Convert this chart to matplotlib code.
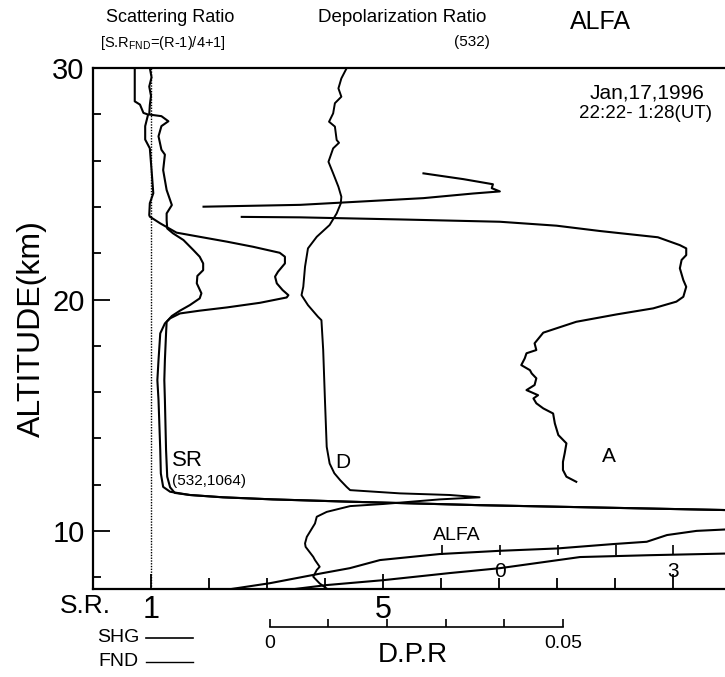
import numpy as np
import matplotlib
matplotlib.use("Agg")
import matplotlib.pyplot as plt
from matplotlib.lines import Line2D

plt.rcParams['font.family'] = ['Liberation Sans', 'DejaVu Sans']
plt.rcParams['mathtext.fontset'] = 'custom'
plt.rcParams['mathtext.rm'] = 'Liberation Sans'

# scattering ratio, SHG (532) -- altitude (km), ratio
sr_shg_alt = [30.0, 28.56, 28.42, 28.06, 27.99, 27.49, 26.91, 26.53, 25.59, 24.59, 24.16, 23.65,
              23.58, 23.29, 22.89, 22.71, 22.50, 22.28, 22.02, 21.85, 21.56, 21.20, 20.99, 20.70,
              20.41, 20.19, 20.09, 19.86, 19.66, 19.52, 19.40, 19.19, 18.97, 18.54, 17.39, 16.52,
              15.66, 13.50, 12.49, 11.91, 11.70, 11.56, 11.46, 11.37, 11.27, 11.12, 10.91, 10.85,
              10.10, 10.07, 10.01, 9.83, 9.54, 9.44, 9.25, 9.15, 9.01, 8.75, 8.40, 8.19, 7.75,
              7.49, 7.30]
sr_shg = [0.72, 0.72, 0.81, 0.87, 0.95, 0.90, 0.90, 0.98, 1.01, 1.04, 0.98, 0.97,
          0.98, 1.16, 1.44, 1.84, 2.31, 2.76, 3.22, 3.31, 3.31, 3.19, 3.14, 3.17,
          3.27, 3.37, 3.34, 2.88, 2.31, 1.84, 1.50, 1.33, 1.24, 1.16, 1.13, 1.11,
          1.13, 1.16, 1.17, 1.21, 1.33, 1.67, 2.24, 3.10, 4.43, 6.67, 10.90, 11.5,
          11.5, 10.90, 10.41, 9.90, 9.55, 8.97, 8.00, 7.02, 5.98, 4.95, 4.43, 3.97, 3.05,
          2.36, 1.90]

# scattering ratio, FND (1064)
sr_fnd_alt = [30.0, 29.6, 29.2, 28.8, 28.4, 27.99, 27.92, 27.70, 27.49, 27.05, 26.47, 26.26,
              25.59, 24.73, 24.08, 23.72, 23.43, 23.07, 22.86, 22.57, 22.14, 21.85, 21.56,
              21.27, 21.02, 20.70, 20.27, 20.05, 19.76, 19.52, 19.29, 19.04, 18.54, 17.39,
              16.52, 15.66, 13.50, 12.35, 11.89, 11.65, 11.56, 11.46, 11.37, 11.27, 11.12,
              10.91, 10.85, 9.05, 9.03, 8.96, 8.88, 8.40, 8.19, 7.88, 7.67, 7.49, 7.30]
sr_fnd = [0.98, 1.01, 0.97, 1.00, 0.98, 0.97, 1.18, 1.30, 1.18, 1.13, 1.18, 1.24,
          1.21, 1.27, 1.36, 1.27, 1.27, 1.28, 1.38, 1.56, 1.73, 1.84, 1.90,
          1.90, 1.80, 1.79, 1.87, 1.84, 1.67, 1.50, 1.36, 1.27, 1.26, 1.24,
          1.23, 1.24, 1.26, 1.28, 1.33, 1.41, 1.67, 2.24, 3.10, 4.43, 6.67,
          10.90, 11.5, 11.5, 10.90, 9.60, 8.40, 7.02, 6.16, 5.00, 4.03, 3.45, 2.90]

# depolarization ratio (532)
dpr_alt = [29.99, 29.55, 29.12, 28.76, 28.48, 28.04, 27.68, 27.47, 26.89, 26.77, 26.53, 25.95,
           25.45, 24.87, 24.44, 24.15, 23.72, 23.22, 22.71, 22.21, 21.42, 20.55, 20.19, 19.76,
           19.26, 19.11, 17.82, 15.66, 13.64, 12.92, 12.50, 12.20, 11.91, 11.77, 11.63, 11.56,
           11.46, 11.37, 11.17, 11.08, 10.83, 10.62, 10.33, 9.75, 9.47, 9.32, 8.89, 8.75, 8.46,
           8.32, 8.03, 7.74, 7.52]
dpr = [0.0131, 0.0122, 0.0117, 0.0122, 0.0111, 0.0108, 0.0101, 0.0111, 0.0114, 0.0118, 0.0108, 0.0100,
       0.0108, 0.0117, 0.0122, 0.0121, 0.0114, 0.0102, 0.0080, 0.0065, 0.0060, 0.0057, 0.0054, 0.0065,
       0.0082, 0.0088, 0.0091, 0.0094, 0.0097, 0.0102, 0.0110, 0.0120, 0.0131, 0.0137, 0.0222, 0.0307,
       0.0358, 0.0290, 0.0193, 0.0137, 0.0097, 0.0080, 0.0077, 0.0063, 0.0060, 0.0061, 0.0074, 0.0077,
       0.0085, 0.0080, 0.0074, 0.0085, 0.0097]

# alfa (A), upper piece and main piece
alfa_top_alt = [25.45, 25.20, 24.98, 24.81, 24.67, 24.58, 24.38, 24.09, 24.01]
alfa_top = [-1.32, -0.63, -0.12, -0.14, 0.00, -0.46, -1.32, -3.45, -5.12]
alfa_alt = [23.57, 23.55, 23.46, 23.36, 23.19, 22.96, 22.69, 22.35, 22.21, 21.92, 21.71, 21.35,
            20.84, 20.55, 20.12, 19.91, 19.62, 19.36, 19.04, 18.76, 18.57, 18.11, 17.82, 17.68,
            17.46, 17.17, 16.95, 16.81, 16.60, 16.31, 16.09, 15.87, 15.73, 15.52, 15.30, 15.08,
            14.65, 14.15, 13.79, 13.36, 12.99, 12.64, 12.35, 12.13]
alfa = [-4.46, -3.45, -1.73, 0.00, 0.98, 1.73, 2.73, 3.11, 3.22, 3.22, 3.14, 3.11,
        3.17, 3.22, 3.17, 3.05, 2.65, 2.02, 1.32, 0.98, 0.75, 0.60, 0.63, 0.46,
        0.43, 0.37, 0.52, 0.55, 0.63, 0.60, 0.46, 0.66, 0.58, 0.63, 0.75, 0.92,
        0.95, 1.01, 1.15, 1.12, 1.09, 1.09, 1.15, 1.32]

sr_ticks = [1, 2, 3, 4, 5, 6, 7, 8, 9, 10]
dpr_ticks = [0, 0.01, 0.02, 0.03, 0.04, 0.05]
alfa_ticks = [-1, 0, 1, 2, 3]

W, H = 725, 677
fig = plt.figure(figsize=(7.25, 6.77), dpi=100)


def fx(px):
    return px / W


def fy(py):
    return 1 - py / H


L, R, T, B = 93, 725, 68, 589
ax = fig.add_axes([fx(L), fy(B), (R - L) / W, (B - T) / H])
ax.set_xlim(0, 10.9)
ax.set_ylim(7.5, 30)
ax.spines['right'].set_visible(False)
for s in ['left', 'top', 'bottom']:
    ax.spines[s].set_linewidth(1.6)

ax.set_xticks([1, 5, 10])
ax.set_xticklabels(['1', '5', ''], fontsize=22)
ax.set_xticks([t for t in sr_ticks if t not in (1, 5, 10)], minor=True)
ax.tick_params(axis='x', which='both', direction='in', top=True, width=1.3, pad=4)
ax.tick_params(axis='x', which='major', length=11)
ax.tick_params(axis='x', which='minor', length=8)
ax.set_yticks([10, 20, 30])
ax.set_yticklabels(['10', '20', '30'], fontsize=21)
ax.set_yticks([8, 12, 14, 16, 18, 22, 24, 26, 28], minor=True)
ax.tick_params(axis='y', which='major', direction='in', length=12, width=1.3, pad=6)
ax.tick_params(axis='y', which='minor', direction='in', length=6, width=1.3)
ax.set_ylabel('ALTITUDE(km)', fontsize=23, labelpad=4)

ax.axvline(1, color='k', lw=1.0, ls=(0, (1, 1)))
ax.plot(sr_shg, sr_shg_alt, color='k', lw=1.5)
ax.plot(sr_fnd, sr_fnd_alt, color='k', lw=1.5)

# depolarization on its own x scale
axd = ax.twiny()
axd.set_xlim(-0.0302, 0.0777)
axd.axis('off')
axd.plot(dpr, dpr_alt, color='k', lw=1.4)

# alfa on its own x scale
axa = ax.twiny()
axa.set_xlim(-7.03, 3.89)
axa.axis('off')
axa.plot(alfa_top, alfa_top_alt, color='k', lw=1.5)
axa.plot(alfa, alfa_alt, color='k', lw=1.5)

# inner ALFA scale
axs = fig.add_axes([fx(L), fy(555), (R - L) / W, 0.0005])
axs.set_facecolor('none')
axs.set_xlim(-7.03, 3.89)
for s in axs.spines.values():
    s.set_visible(False)
axs.set_yticks([])
axs.set_xticks(alfa_ticks)
axs.set_xticklabels(['', '0', '', '', '3'], fontsize=15)
axs.tick_params(axis='x', direction='in', length=7, width=1.2, pad=5)

# D.P.R scale bar
axp = fig.add_axes([fx(L), fy(627), (R - L) / W, 0.0005])
axp.set_facecolor('none')
axp.set_xlim(-0.0302, 0.0777)
for s in ['top', 'left', 'right']:
    axp.spines[s].set_visible(False)
axp.spines['bottom'].set_bounds(0, 0.05)
axp.spines['bottom'].set_linewidth(1.2)
axp.set_yticks([])
axp.set_xticks(dpr_ticks)
axp.set_xticklabels(['0', '', '', '', '', '0.05'], fontsize=14)
axp.tick_params(axis='x', direction='in', length=6, width=1.2, pad=6)

# texts
fig.text(fx(170), fy(18), 'Scattering Ratio', fontsize=13, ha='center', va='center')
fig.text(fx(100), fy(43), r'[S.R$_{\mathrm{FND}}$=(R-1)/4+1]', fontsize=10.5, ha='left', va='center')
fig.text(fx(402), fy(18), 'Depolarization Ratio', fontsize=13.5, ha='center', va='center')
fig.text(fx(490), fy(42), '(532)', fontsize=11, ha='right', va='center')
fig.text(fx(600), fy(22), 'ALFA', fontsize=18, ha='center', va='center')
fig.text(fx(590), fy(93), 'Jan,17,1996', fontsize=15, ha='left', va='center')
fig.text(fx(712), fy(114), '22:22- 1:28(UT)', fontsize=13.5, ha='right', va='center')
fig.text(fx(172), fy(461), 'SR', fontsize=16, ha='left', va='center')
fig.text(fx(172), fy(481), '(532,1064)', fontsize=11, ha='left', va='center')
fig.text(fx(335), fy(462), 'D', fontsize=15, ha='left', va='center')
fig.text(fx(602), fy(457), 'A', fontsize=15, ha='left', va='center')
fig.text(fx(457), fy(535), 'ALFA', fontsize=14, ha='center', va='center')
fig.text(fx(85), fy(606), 'S.R.', fontsize=19, ha='center', va='center')
fig.text(fx(413), fy(655), 'D.P.R', fontsize=20, ha='center', va='center')
fig.text(fx(118), fy(637), 'SHG', fontsize=14, ha='center', va='center')
fig.text(fx(118), fy(661), 'FND', fontsize=14, ha='center', va='center')
fig.add_artist(Line2D([fx(146), fx(193)], [fy(638), fy(638)], color='k', lw=1.2))
fig.add_artist(Line2D([fx(146), fx(193)], [fy(662), fy(662)], color='k', lw=1.0))

fig.savefig('out.png', dpi=100)
